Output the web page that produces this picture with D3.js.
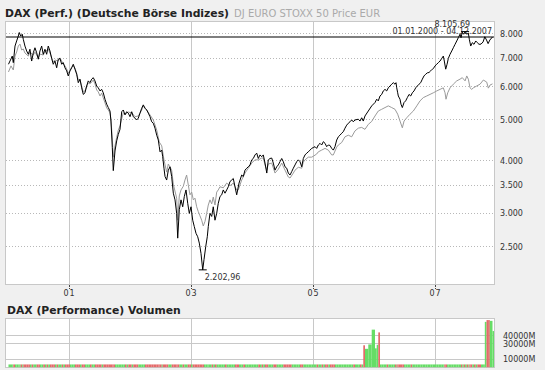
<!DOCTYPE html>
<html>
<head>
<meta charset="utf-8">
<script src="https://cdn.jsdelivr.net/npm/d3@7"></script>
<style>
  body { margin: 0; background: #f0f0f0; }
  svg { display: block; font-family: "DejaVu Sans", Verdana, sans-serif; }
</style>
</head>
<body>
<svg id="chart" width="545" height="370"></svg>
<script>
// DAX closes (decimal years)
const daxYears = [
  2000.000, 2000.041, 2000.062, 2000.079, 2000.107, 2000.134, 2000.161, 2000.177, 2000.200, 2000.226,
  2000.243, 2000.270, 2000.298, 2000.325, 2000.352, 2000.380, 2000.407, 2000.434, 2000.462, 2000.489,
  2000.516, 2000.544, 2000.570, 2000.598, 2000.626, 2000.652, 2000.680, 2000.708, 2000.734, 2000.762,
  2000.790, 2000.816, 2000.844, 2000.872, 2000.898, 2000.926, 2000.954, 2000.980, 2001.008, 2001.036,
  2001.062, 2001.090, 2001.118, 2001.144, 2001.172, 2001.200, 2001.226, 2001.254, 2001.282, 2001.308,
  2001.336, 2001.364, 2001.390, 2001.418, 2001.446, 2001.472, 2001.500, 2001.528, 2001.554, 2001.582,
  2001.610, 2001.636, 2001.664, 2001.680, 2001.702, 2001.718, 2001.746, 2001.774, 2001.800, 2001.828,
  2001.856, 2001.882, 2001.910, 2001.938, 2001.964, 2001.992, 2002.020, 2002.046, 2002.074, 2002.102,
  2002.128, 2002.156, 2002.184, 2002.210, 2002.238, 2002.266, 2002.292, 2002.320, 2002.348, 2002.374,
  2002.402, 2002.430, 2002.456, 2002.472, 2002.484, 2002.512, 2002.528, 2002.549, 2002.566, 2002.593,
  2002.620, 2002.648, 2002.675, 2002.702, 2002.730, 2002.757, 2002.774, 2002.800, 2002.828, 2002.856,
  2002.882, 2002.910, 2002.938, 2002.964, 2002.992, 2003.020, 2003.046, 2003.074, 2003.102, 2003.128,
  2003.156, 2003.184, 2003.205, 2003.233, 2003.259, 2003.275, 2003.303, 2003.331, 2003.357, 2003.385,
  2003.413, 2003.439, 2003.467, 2003.495, 2003.521, 2003.549, 2003.577, 2003.603, 2003.631, 2003.659,
  2003.685, 2003.713, 2003.741, 2003.779, 2003.823, 2003.849, 2003.877, 2003.905, 2003.931, 2003.959,
  2003.987, 2004.013, 2004.041, 2004.069, 2004.095, 2004.123, 2004.151, 2004.177, 2004.205, 2004.234,
  2004.259, 2004.287, 2004.315, 2004.341, 2004.369, 2004.397, 2004.423, 2004.451, 2004.479, 2004.505,
  2004.533, 2004.561, 2004.587, 2004.615, 2004.643, 2004.669, 2004.697, 2004.725, 2004.751, 2004.779,
  2004.807, 2004.833, 2004.861, 2004.889, 2004.915, 2004.943, 2004.970, 2004.997, 2005.025, 2005.052,
  2005.079, 2005.107, 2005.134, 2005.161, 2005.189, 2005.216, 2005.243, 2005.270, 2005.298, 2005.325,
  2005.352, 2005.380, 2005.407, 2005.434, 2005.462, 2005.489, 2005.516, 2005.544, 2005.570, 2005.598,
  2005.626, 2005.652, 2005.680, 2005.734, 2005.762, 2005.790, 2005.816, 2005.844, 2005.898, 2005.954,
  2006.008, 2006.036, 2006.062, 2006.090, 2006.118, 2006.144, 2006.172, 2006.200, 2006.226, 2006.254,
  2006.282, 2006.308, 2006.336, 2006.352, 2006.364, 2006.380, 2006.390, 2006.418, 2006.434, 2006.456,
  2006.484, 2006.511, 2006.538, 2006.566, 2006.593, 2006.620, 2006.648, 2006.675, 2006.702, 2006.730,
  2006.757, 2006.784, 2006.811, 2006.839, 2006.866, 2006.893, 2006.921, 2006.948, 2006.975, 2006.992,
  2007.020, 2007.046, 2007.074, 2007.102, 2007.128, 2007.144, 2007.167, 2007.189, 2007.210, 2007.238,
  2007.266, 2007.292, 2007.320, 2007.348, 2007.374, 2007.402, 2007.418, 2007.439, 2007.462, 2007.485,
  2007.512, 2007.538, 2007.554, 2007.577, 2007.603, 2007.631, 2007.659, 2007.685, 2007.713, 2007.746,
  2007.780, 2007.808, 2007.836, 2007.862, 2007.890, 2007.934
];
const daxClose = [
  6780, 6980, 7090, 6840, 7490, 7700, 7910, 8065, 7910, 7990,
  7770, 7490, 7290, 7160, 7360, 6900, 7220, 7420, 7220, 6970,
  7290, 7490, 7160, 7360, 7160, 7490, 7290, 7000, 6780, 6900,
  6650, 6970, 7000, 6780, 6840, 6650, 6540, 6360, 6540, 6650,
  6780, 6600, 6420, 6130, 6250, 5960, 5750, 5800, 6020, 6190,
  6130, 6250, 6300, 6190, 6020, 5960, 5860, 5910, 5800, 5600,
  5450, 5350, 5250, 4970, 4300, 3790, 4220, 4460, 4620, 4750,
  5230, 5280, 5140, 5230, 5190, 5090, 5230, 5090, 5050, 5000,
  5050, 5190, 5330, 5430, 5330, 5280, 5190, 5090, 4950, 4910,
  4780, 4600, 4480, 4320, 4200, 4240, 4090, 3840, 3670, 3600,
  3800, 3870, 3670, 3350, 3230, 3000, 2620, 3060, 3230, 3110,
  3290, 3410, 3170, 3000, 3110, 2890, 2790, 2690, 2640, 2550,
  2410, 2202.96, 2330, 2500, 2640, 2790, 3000, 2950, 3110, 2890,
  3000, 3170, 3290, 3320, 3410, 3350, 3410, 3470, 3570, 3600,
  3630, 3470, 3320, 3540, 3700, 3670, 3800, 3840, 3870, 3910,
  4020, 4050, 4130, 4170, 4050, 4130, 4090, 4130, 3950, 3740,
  4020, 4050, 4060, 3950, 3800, 3870, 3910, 3980, 4050, 3980,
  3870, 3840, 3740, 3700, 3770, 3840, 3910, 3980, 4020, 3980,
  3870, 4050, 4130, 4170, 4200, 4240, 4280, 4300, 4320, 4280,
  4360, 4400, 4360, 4440, 4400, 4320, 4360, 4350, 4280, 4240,
  4320, 4480, 4560, 4600, 4650, 4690, 4780, 4860, 4910, 4950,
  5000, 4950, 5000, 5020, 4970, 5060, 4970, 5110, 5250, 5400,
  5500, 5600, 5550, 5700, 5750, 5860, 5910, 5860, 5960, 6020,
  6080, 6130, 6080, 6130, 5960, 5800, 5700, 5600, 5450, 5350,
  5500, 5550, 5650, 5750, 5700, 5800, 5860, 5960, 6020, 6080,
  6130, 6250, 6360, 6420, 6470, 6480, 6540, 6600, 6650, 6720,
  6780, 6840, 6900, 7000, 7090, 6900, 6600, 6780, 7000, 7160,
  7290, 7420, 7560, 7700, 7840, 7990, 7840, 8080, 7990, 8105.69,
  7990, 8040, 7770, 7490, 7630, 7560, 7700, 7630, 7560, 7570,
  7660, 7880, 7740, 7590, 7740, 7870
];
// volume in millions, one value per DAX close
const daxVolume = [
  3500, 3500, 3500, 3500, 3500, 3500, 3500, 3500, 3500, 3500, 3500, 3500, 3500, 3500, 3500, 3500, 3500, 3500, 3500, 3500,
  3500, 3500, 3500, 3500, 3500, 3500, 3500, 3500, 3500, 3500, 3500, 3500, 3500, 3500, 3500, 3500, 3500, 3500, 3500, 3500,
  3500, 3500, 3500, 3500, 3500, 3500, 3500, 3500, 3500, 3500, 3500, 3500, 3500, 3500, 3500, 3500, 3500, 3500, 3500, 3500,
  3500, 3500, 3500, 3500, 3500, 3500, 3500, 3500, 3500, 3500, 3500, 3500, 3500, 3500, 3500, 3500, 3500, 3500, 3500, 3500,
  3500, 3500, 3500, 3500, 3500, 3500, 3500, 3500, 3500, 3500, 3500, 3500, 3500, 3500, 3500, 3500, 3500, 3500, 3500, 3500,
  3500, 3500, 3500, 3500, 3500, 3500, 3500, 3500, 3500, 3500, 3500, 3500, 3500, 3500, 3500, 3500, 3500, 3500, 3500, 3500,
  3500, 3500, 3500, 3500, 3500, 3500, 3500, 3500, 3500, 3500, 3500, 3500, 3500, 3500, 3500, 3500, 3500, 3500, 3500, 3500,
  3500, 3500, 3500, 3500, 3500, 3500, 3500, 3500, 3500, 3500, 3500, 3500, 3500, 3500, 3500, 3500, 3500, 3500, 3500, 3500,
  3500, 3500, 3500, 3500, 3500, 3500, 3500, 3500, 3500, 3500, 3500, 3500, 3500, 3500, 3500, 3500, 3500, 3500, 3500, 3500,
  3500, 3500, 3500, 3500, 3500, 3500, 3500, 3500, 3500, 3500, 3500, 3500, 3500, 3500, 3500, 3500, 3500, 3500, 3500, 3500,
  3500, 3500, 3500, 3500, 3500, 3500, 3500, 3500, 3500, 3500, 3500, 3500, 3500, 3500, 3500, 3500,
  27900, 23400, 29000, 47800, 24000, 28500, 44300,
  3500, 3500, 3500, 3500, 3500, 3500, 3500, 3500, 3500, 3500, 3500, 3500, 3500, 3500, 3500, 3500, 3500, 3500, 3500, 3500,
  3500, 3500, 3500, 3500, 3500, 3500, 3500, 3500, 3500, 3500, 3500, 3500, 3500, 3500, 3500, 3500, 3500, 3500, 3500, 3500,
  3500, 3500, 3500, 3500, 3500, 3500, 3500, 3500, 3500, 3500, 3500, 3500, 3500, 3500, 3500, 3500, 3500, 3500, 3500, 3500,
  3500, 3500, 3500, 3500, 3500, 3500, 3500, 3500,
  57700, 60000, 60000, 59000, 46000
];

// DJ EURO STOXX 50, rebased onto the DAX start
const stoxxYears = [
  2000.000, 2000.041, 2000.079, 2000.107, 2000.134, 2000.161, 2000.189, 2000.216, 2000.243, 2000.270,
  2000.325, 2000.352, 2000.407, 2000.434, 2000.489, 2000.516, 2000.570, 2000.598, 2000.652, 2000.680,
  2000.734, 2000.762, 2000.816, 2000.844, 2000.898, 2000.926, 2000.954, 2000.980, 2001.008, 2001.036,
  2001.062, 2001.090, 2001.118, 2001.144, 2001.172, 2001.200, 2001.226, 2001.254, 2001.282, 2001.308,
  2001.336, 2001.364, 2001.390, 2001.418, 2001.446, 2001.472, 2001.500, 2001.528, 2001.554, 2001.582,
  2001.610, 2001.636, 2001.664, 2001.680, 2001.702, 2001.718, 2001.746, 2001.774, 2001.800, 2001.828,
  2001.856, 2001.882, 2001.910, 2001.964, 2002.020, 2002.074, 2002.128, 2002.184, 2002.210, 2002.266,
  2002.320, 2002.374, 2002.430, 2002.472, 2002.512, 2002.549, 2002.593, 2002.620, 2002.675, 2002.702,
  2002.757, 2002.774, 2002.800, 2002.828, 2002.866, 2002.893, 2002.920, 2002.948, 2002.975, 2003.003,
  2003.030, 2003.057, 2003.085, 2003.111, 2003.139, 2003.167, 2003.193, 2003.221, 2003.249, 2003.275,
  2003.303, 2003.331, 2003.357, 2003.385, 2003.413, 2003.439, 2003.467, 2003.521, 2003.577, 2003.631,
  2003.685, 2003.741, 2003.767, 2003.823, 2003.877, 2003.931, 2003.987, 2004.041, 2004.095, 2004.151,
  2004.177, 2004.205, 2004.234, 2004.259, 2004.315, 2004.369, 2004.423, 2004.479, 2004.533, 2004.587,
  2004.615, 2004.669, 2004.697, 2004.751, 2004.807, 2004.833, 2004.861, 2004.915, 2004.970, 2004.997,
  2005.052, 2005.079, 2005.134, 2005.189, 2005.243, 2005.298, 2005.325, 2005.380, 2005.407, 2005.462,
  2005.516, 2005.570, 2005.626, 2005.680, 2005.734, 2005.790, 2005.844, 2005.898, 2005.954, 2006.008,
  2006.062, 2006.118, 2006.172, 2006.226, 2006.282, 2006.336, 2006.380, 2006.418, 2006.456, 2006.484,
  2006.528, 2006.582, 2006.636, 2006.693, 2006.746, 2006.800, 2006.856, 2006.910, 2006.964, 2007.020,
  2007.074, 2007.128, 2007.156, 2007.172, 2007.200, 2007.238, 2007.292, 2007.348, 2007.402, 2007.439,
  2007.485, 2007.512, 2007.538, 2007.566, 2007.593, 2007.620, 2007.675, 2007.730, 2007.784, 2007.839,
  2007.866, 2007.893, 2007.934
];
const stoxxClose = [
  6500, 6720, 6570, 7090, 7250, 7490, 7570, 7330, 7370, 7210,
  7090, 7250, 7130, 7250, 7020, 7170, 7130, 7250, 7370, 7210,
  6860, 6940, 6900, 7020, 6790, 6720, 6610, 6460, 6540, 6680,
  6720, 6640, 6460, 6220, 6220, 6020, 5830, 5860, 6020, 6120,
  6090, 6150, 6220, 6090, 5890, 5830, 5700, 5790, 5640, 5490,
  5340, 5280, 5200, 5000, 4530, 4080, 4340, 4550, 4730, 4840,
  5030, 5200, 5160, 5220, 5200, 5090, 5110, 5280, 5400, 5280,
  5140, 5000, 4730, 4430, 4340, 4020, 3760, 3930, 3800, 3520,
  3260, 2890, 3300, 3410, 3480, 3600, 3700, 3500, 3320, 3370,
  3230, 3260, 3110, 3030, 2960, 2890, 2800, 2870, 3000, 3140,
  3230, 3160, 3280, 3140, 3370, 3410, 3470, 3450, 3540, 3490,
  3540, 3410, 3410, 3600, 3740, 3840, 3950, 4020, 4020, 4060,
  4060, 3910, 3800, 3930, 3950, 3740, 3820, 3950, 3800, 3660,
  3640, 3740, 3800, 3860, 3840, 3970, 4020, 4080, 4080, 4100,
  4150, 4200, 4240, 4280, 4240, 4130, 4130, 4310, 4360, 4420,
  4560, 4600, 4560, 4710, 4780, 4800, 4750, 4880, 4960, 5110,
  5250, 5300, 5350, 5400, 5350, 5300, 5160, 4970, 4790, 4970,
  5060, 5160, 5250, 5400, 5550, 5650, 5700, 5750, 5800, 5860,
  5910, 5960, 5800, 5600, 5800, 5960, 6080, 6190, 6250, 6300,
  6190, 6360, 6250, 5960, 5910, 5960, 6020, 6080, 6220, 6150,
  5950, 6050, 6090
];

const priceTicks = [2500, 3000, 3500, 4000, 5000, 6000, 7000, 8000];
const yearTicks = [2001, 2003, 2005, 2007];
const volumeTicks = [10000, 30000, 40000];
const mainTitle = "DAX (Perf.) (Deutsche Börse Indizes)";
const compareTitle = "DJ EURO STOXX 50 Price EUR";
const volumeTitle = "DAX (Performance) Volumen";
const periodLabel = "01.01.2000 - 04.12.2007";

// German number format: 8.000 / 8.105,69
const de = d3.formatLocale({ decimal: ",", thousands: ".", grouping: [3], currency: ["", " €"] });
const fmtInt = de.format(",.0f");
const fmtDec = de.format(",.2f");

const svg = d3.select("#chart");

// layout of the two panels
const plot = { left: 5, right: 495, top: 21, bottom: 284 };
const vol = { left: 5, right: 495, top: 318.5, bottom: 367.5 };

const dax = daxYears.map((t, i) => ({ t: t, v: daxClose[i], vol: daxVolume[i] }));
const stoxx = stoxxYears.map((t, i) => ({ t: t, v: stoxxClose[i] }));

const x = d3.scaleLinear().domain([1999.943, 2007.975]).range([plot.left, plot.right]);
const y = d3.scaleLog().domain([2039, 8589]).range([plot.bottom, plot.top]);
const yVol = d3.scaleLinear().domain([0, 62000]).range([367.2, vol.top]);

const crisp = v => Math.floor(v) + 0.5;

// ---- main panel ----
svg.append("text")
  .attr("x", 5).attr("y", 17)
  .style("font-size", "10.8px").style("font-weight", "bold").attr("fill", "#222")
  .text(mainTitle)
  .append("tspan")
  .attr("dx", 5)
  .style("font-weight", "normal").style("font-size", "10px").attr("fill", "#aaa")
  .text(compareTitle);

svg.append("rect")
  .attr("x", plot.left + 0.5).attr("y", plot.top + 0.5)
  .attr("width", plot.right - plot.left - 1).attr("height", plot.bottom - plot.top)
  .attr("fill", "#fff").attr("stroke", "#c8c8c8");

// dotted price grid + labels on the right
svg.append("g").selectAll("line")
  .data(priceTicks)
  .enter().append("line")
  .attr("x1", plot.left + 1).attr("x2", plot.right - 1)
  .attr("y1", d => crisp(y(d))).attr("y2", d => crisp(y(d)))
  .attr("stroke", "#b8b8b8").attr("stroke-dasharray", "1,2");

svg.append("g").selectAll("text")
  .data(priceTicks)
  .enter().append("text")
  .attr("x", 500).attr("y", d => y(d) + 3)
  .style("font-size", "8px").attr("fill", "#333")
  .text(d => fmtInt(d));

// year grid
svg.append("g").selectAll("line")
  .data(yearTicks)
  .enter().append("line")
  .attr("x1", d => crisp(x(d))).attr("x2", d => crisp(x(d)))
  .attr("y1", plot.top + 1).attr("y2", plot.bottom)
  .attr("stroke", "#c8c8c8");

svg.append("g").selectAll("line")
  .data(yearTicks)
  .enter().append("line")
  .attr("x1", d => crisp(x(d))).attr("x2", d => crisp(x(d)))
  .attr("y1", plot.bottom + 1).attr("y2", plot.bottom + 5)
  .attr("stroke", "#444").attr("stroke-dasharray", "2,1");

svg.append("g").selectAll("text")
  .data(yearTicks)
  .enter().append("text")
  .attr("x", d => x(d)).attr("y", 296)
  .attr("text-anchor", "middle")
  .style("font-size", "8px").style("letter-spacing", "1px").attr("fill", "#333")
  .text(d => String(d).slice(2));

const line = d3.line().x(d => x(d.t)).y(d => y(d.v));

svg.append("path")
  .datum(stoxx)
  .attr("d", line)
  .attr("fill", "none").attr("stroke", "#9a9a9a").attr("stroke-width", 1);

svg.append("path")
  .datum(dax)
  .attr("d", line)
  .attr("fill", "none").attr("stroke", "#000").attr("stroke-width", 1);

// line at the last close
const last = dax[dax.length - 1];
svg.append("line")
  .attr("x1", plot.left + 1).attr("x2", plot.right - 1)
  .attr("y1", y(last.v)).attr("y2", y(last.v))
  .attr("stroke", "#000").attr("stroke-width", 1.2);

svg.append("text")
  .attr("x", 492).attr("y", 33.5)
  .attr("text-anchor", "end")
  .style("font-size", "8px").attr("fill", "#333")
  .text(periodLabel);

// high / low markers
const hi = dax[d3.maxIndex(dax, d => d.v)];
const lo = dax[d3.minIndex(dax, d => d.v)];

svg.append("line")
  .attr("x1", x(hi.t) - 4).attr("x2", x(hi.t) + 4)
  .attr("y1", y(hi.v)).attr("y2", y(hi.v))
  .attr("stroke", "#000");
svg.append("text")
  .attr("x", x(hi.t) + 5).attr("y", y(hi.v) - 4.5)
  .attr("text-anchor", "end")
  .style("font-size", "8px").attr("fill", "#333")
  .text(fmtDec(hi.v));

svg.append("line")
  .attr("x1", x(lo.t) - 4).attr("x2", x(lo.t) + 4)
  .attr("y1", y(lo.v)).attr("y2", y(lo.v))
  .attr("stroke", "#000");
svg.append("text")
  .attr("x", x(lo.t) + 2).attr("y", y(lo.v) + 10)
  .style("font-size", "8px").attr("fill", "#333")
  .text(fmtDec(lo.v));

// ---- volume panel ----
svg.append("text")
  .attr("x", 7).attr("y", 314)
  .style("font-size", "10.8px").style("font-weight", "bold").attr("fill", "#222")
  .text(volumeTitle);

svg.append("rect")
  .attr("x", vol.left + 0.5).attr("y", vol.top)
  .attr("width", vol.right - vol.left - 1).attr("height", vol.bottom - vol.top)
  .attr("fill", "#fff").attr("stroke", "#c8c8c8");

svg.append("g").selectAll("line")
  .data(yearTicks)
  .enter().append("line")
  .attr("x1", d => crisp(x(d))).attr("x2", d => crisp(x(d)))
  .attr("y1", vol.top).attr("y2", vol.bottom)
  .attr("stroke", "#c8c8c8");

svg.append("g").selectAll("line")
  .data(volumeTicks)
  .enter().append("line")
  .attr("x1", vol.left + 1).attr("x2", vol.right - 1)
  .attr("y1", d => crisp(yVol(d))).attr("y2", d => crisp(yVol(d)))
  .attr("stroke", "#c8c8c8");

svg.append("g").selectAll("text")
  .data(volumeTicks)
  .enter().append("text")
  .attr("x", 503).attr("y", d => yVol(d) + 3)
  .style("font-size", "8px").attr("fill", "#333")
  .text(d => d + "M");

// bars are green on up days, red on down days
svg.append("g").selectAll("rect")
  .data(dax)
  .enter().append("rect")
  .attr("x", d => x(d.t))
  .attr("width", (d, i) => i < dax.length - 1 ? x(dax[i + 1].t) - x(d.t) : 1.5)
  .attr("y", d => yVol(d.vol))
  .attr("height", d => 367.2 - yVol(d.vol))
  .attr("fill", (d, i) => (i === 0 || d.v >= dax[i - 1].v) ? "#66dd66" : "#e46a6a");
</script>
</body>
</html>
